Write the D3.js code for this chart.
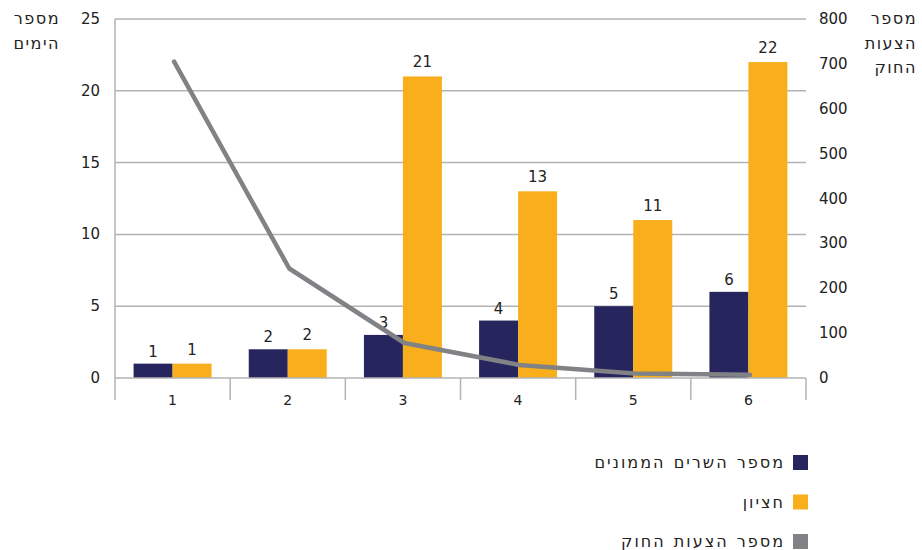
<!DOCTYPE html>
<html>
<head>
<meta charset="utf-8">
<script src="https://cdn.jsdelivr.net/npm/d3@7"></script>
<style>
  body { margin: 0; background: #fff; }
  svg { font-family: "DejaVu Sans", "Liberation Sans", sans-serif; }
</style>
</head>
<body>
<svg id="chart" width="922" height="550"></svg>
<script>
var categories = ["1", "2", "3", "4", "5", "6"];
var ministers = [1, 2, 3, 4, 5, 6];
var median = [1, 2, 21, 13, 11, 22];
var bills = [705, 244, 78, 29, 10, 7];
var leftTicks = [0, 5, 10, 15, 20, 25];
var rightTicks = [0, 100, 200, 300, 400, 500, 600, 700, 800];
var seriesNames = ["מספר השרים הממונים", "חציון", "מספר הצעות החוק"];
var colors = ["#27255e", "#f9ae1c", "#818285"];

var svg = d3.select("#chart");
var plotLeft = 115, plotRight = 806, plotTop = 19, plotBottom = 378;

var x = d3.scaleBand().domain(categories).range([plotLeft, plotRight]);
var yL = d3.scaleLinear().domain([0, 25]).range([plotBottom, plotTop]);
var yR = d3.scaleLinear().domain([0, 800]).range([plotBottom, plotTop]);
var barW = 39;

// gridlines
svg.append("g").selectAll("line").data(leftTicks.slice(1)).enter().append("line")
  .attr("x1", plotLeft).attr("x2", plotRight)
  .attr("y1", function(d) { return yL(d); }).attr("y2", function(d) { return yL(d); })
  .attr("stroke", "#b3b3b3").attr("stroke-width", 1.5);

// left axis line
svg.append("line").attr("x1", plotLeft).attr("x2", plotLeft).attr("y1", plotTop).attr("y2", plotBottom + 22)
  .attr("stroke", "#b3b3b3").attr("stroke-width", 1.5);

// bars
var groups = svg.append("g").selectAll("g").data(categories).enter().append("g");
groups.append("rect")
  .attr("x", function(d) { return x(d) + x.bandwidth() / 2 - barW; })
  .attr("y", function(d, i) { return yL(ministers[i]); })
  .attr("width", barW)
  .attr("height", function(d, i) { return plotBottom - yL(ministers[i]); })
  .attr("fill", colors[0]);
groups.append("rect")
  .attr("x", function(d) { return x(d) + x.bandwidth() / 2; })
  .attr("y", function(d, i) { return yL(median[i]); })
  .attr("width", barW)
  .attr("height", function(d, i) { return plotBottom - yL(median[i]); })
  .attr("fill", colors[1]);

// x axis
svg.append("line").attr("x1", plotLeft).attr("x2", plotRight).attr("y1", plotBottom).attr("y2", plotBottom)
  .attr("stroke", "#b3b3b3").attr("stroke-width", 1.5);
var bounds = categories.map(function(d) { return x(d); }).concat([plotRight]);
svg.append("g").selectAll("line").data(bounds.slice(1)).enter().append("line")
  .attr("x1", function(d) { return d; }).attr("x2", function(d) { return d; })
  .attr("y1", plotBottom).attr("y2", plotBottom + 22)
  .attr("stroke", "#b3b3b3").attr("stroke-width", 1.5);
svg.append("g").selectAll("text").data(categories).enter().append("text")
  .attr("x", function(d) { return x(d) + x.bandwidth() / 2; })
  .attr("y", 405)
  .attr("text-anchor", "middle").attr("font-size", 14).attr("fill", "#222")
  .text(function(d) { return d; });

// line
var line = d3.line()
  .x(function(d, i) { return x(categories[i]) + x.bandwidth() / 2 + 1.5; })
  .y(function(d) { return yR(d); });
svg.append("path").datum(bills).attr("d", line)
  .attr("fill", "none").attr("stroke", colors[2]).attr("stroke-width", 4.5)
  .attr("stroke-linecap", "round").attr("stroke-linejoin", "round");

// value labels
groups.append("text")
  .attr("x", function(d) { return x(d) + x.bandwidth() / 2 - barW / 2; })
  .attr("y", function(d, i) { return yL(ministers[i]) - 7; })
  .attr("text-anchor", "middle").attr("font-size", 15).attr("fill", "#222")
  .text(function(d, i) { return ministers[i]; });
groups.append("text")
  .attr("x", function(d) { return x(d) + x.bandwidth() / 2 + barW / 2; })
  .attr("y", function(d, i) { return yL(median[i]) - 9; })
  .attr("text-anchor", "middle").attr("font-size", 15).attr("fill", "#222")
  .text(function(d, i) { return median[i]; });

// tick labels
svg.append("g").selectAll("text").data(leftTicks).enter().append("text")
  .attr("x", 100).attr("y", function(d) { return yL(d) + 5; })
  .attr("text-anchor", "end").attr("font-size", 15).attr("fill", "#222")
  .text(function(d) { return d; });
svg.append("g").selectAll("text").data(rightTicks).enter().append("text")
  .attr("x", 819).attr("y", function(d) { return yR(d) + 5; })
  .attr("text-anchor", "start").attr("font-size", 15).attr("fill", "#222")
  .text(function(d) { return d; });

// axis titles
var lt = ["מספר", "הימים"];
svg.append("g").selectAll("text").data(lt).enter().append("text")
  .attr("x", 60).attr("y", function(d, i) { return 24 + i * 25; })
  .attr("text-anchor", "end").attr("font-size", 16).attr("letter-spacing", 1.5).attr("fill", "#222")
  .text(function(d) { return d; });
var rt = ["מספר", "הצעות", "החוק"];
svg.append("g").selectAll("text").data(rt).enter().append("text")
  .attr("x", 917).attr("y", function(d, i) { return 24 + i * 24.5; })
  .attr("text-anchor", "end").attr("font-size", 16).attr("letter-spacing", 1.5).attr("fill", "#222")
  .text(function(d) { return d; });

// legend
var leg = svg.append("g").selectAll("g").data(seriesNames).enter().append("g")
  .attr("transform", function(d, i) { return "translate(0," + (455 + i * 39.5) + ")"; });
leg.append("rect").attr("x", 793).attr("y", 0).attr("width", 15).attr("height", 15)
  .attr("fill", function(d, i) { return colors[i]; });
leg.append("text").attr("x", 785).attr("y", 13)
  .attr("text-anchor", "end").attr("font-size", 16).attr("letter-spacing", 2)
  .attr("word-spacing", 1).attr("fill", "#222")
  .text(function(d) { return d; });
</script>
</body>
</html>
